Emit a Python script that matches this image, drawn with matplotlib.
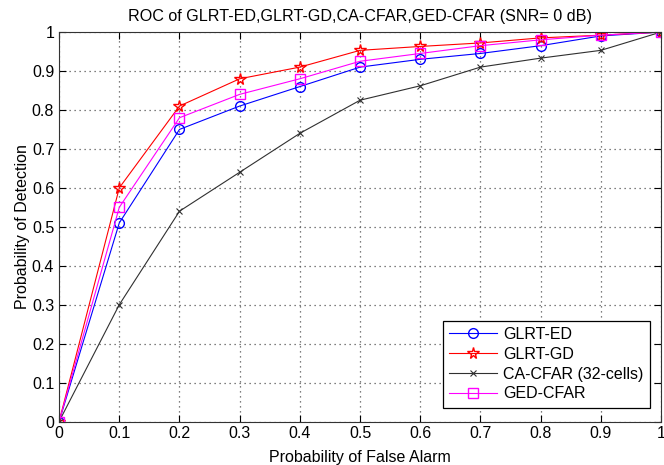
import matplotlib
matplotlib.use("Agg")
import matplotlib.pyplot as plt
import numpy as np

# ── ROC data (SNR = 0 dB) ─────────────────────────────────────────────
pfa = [0, 0.1, 0.2, 0.3, 0.4, 0.5, 0.6, 0.7, 0.8, 0.9, 1.0]
pd_glrt_ed = [0, 0.51, 0.75, 0.81, 0.86, 0.91, 0.93, 0.945, 0.965, 0.99, 1.0]
pd_glrt_gd = [0, 0.60, 0.81, 0.88, 0.91, 0.953, 0.963, 0.972, 0.985, 0.992, 1.0]
pd_ca_cfar = [0, 0.30, 0.54, 0.64, 0.74, 0.825, 0.862, 0.91, 0.933, 0.953, 1.0]
pd_ged_cfar = [0, 0.55, 0.78, 0.84, 0.88, 0.925, 0.945, 0.965, 0.98, 0.992, 1.0]

xticks = np.round(np.arange(0, 1.01, 0.1), 1)
yticks = np.round(np.arange(0, 1.01, 0.1), 1)

plt.rcParams["font.family"] = ["Liberation Sans", "DejaVu Sans"]
plt.rcParams["font.size"] = 11

fig = plt.figure(figsize=(6.64, 4.65), dpi=100)
ax = fig.add_axes([0.089, 0.0935, 0.9066, 0.8376])

ax.plot(pfa, pd_glrt_ed, color="blue", lw=0.8, marker="o", ms=7,
        mfc="none", mec="blue", mew=1, label="GLRT-ED")
ax.plot(pfa, pd_glrt_gd, color="red", lw=0.8, marker="*", ms=8.5,
        mfc="none", mec="red", mew=1, label="GLRT-GD")
ax.plot(pfa, pd_ca_cfar, color="#303030", lw=0.8, marker="x", ms=4.5,
        mew=0.8, label="CA-CFAR (32-cells)")
ax.plot(pfa, pd_ged_cfar, color="magenta", lw=0.8, marker="s", ms=7,
        mfc="none", mec="magenta", mew=1, label="GED-CFAR")

ax.set_xlim(0, 1)
ax.set_ylim(0, 1)
ax.set_xticks(xticks)
ax.set_yticks(yticks)
ax.set_xticklabels([f"{v:g}" for v in xticks])
ax.set_yticklabels([f"{v:g}" for v in yticks])
ax.tick_params(direction="in", top=True, right=True, length=5, labelsize=11.5)
ax.grid(True, ls=(0, (1, 3)), color="#555555", lw=0.9)
for s in ax.spines.values():
    s.set_color("#333333")

ax.set_xlabel("Probability of False Alarm", fontsize=11.5, labelpad=6)
ax.set_ylabel("Probability of Detection", fontsize=11.5, labelpad=1)
ax.set_title("ROC of GLRT-ED,GLRT-GD,CA-CFAR,GED-CFAR (SNR= 0 dB)",
             fontsize=11.6, pad=8)

leg = ax.legend(loc="lower right", bbox_to_anchor=(0.995, 0.015),
                fancybox=False, framealpha=1, edgecolor="black",
                fontsize=11.5, handlelength=3.0, handletextpad=0.4,
                borderpad=0.4, labelspacing=0.3)
leg.get_frame().set_linewidth(0.9)

fig.savefig("out.png", dpi=100)
